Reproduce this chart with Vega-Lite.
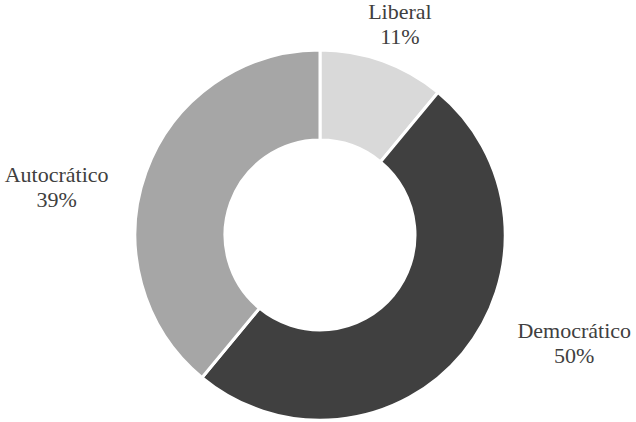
{
  "$schema": "https://vega.github.io/schema/vega-lite/v6.json",
  "width": 632,
  "height": 374,
  "autosize": "none",
  "padding": {"left": 4, "top": 48, "right": 0, "bottom": 0},
  "background": "white",
  "view": {"stroke": null},
  "data": {
    "values": [
      {"categoria": "Liberal", "valor": 11},
      {"categoria": "Democrático", "valor": 50},
      {"categoria": "Autocrático", "valor": 39}
    ]
  },
  "layer": [
    {
      "mark": {"type": "arc", "outerRadius": 185, "innerRadius": 95, "stroke": "white", "strokeWidth": 3},
      "encoding": {
        "theta": {"field": "valor", "type": "quantitative", "stack": true, "scale": {"domain": [0, 100]}},
        "order": {"field": "categoria", "type": "nominal", "sort": "descending"},
        "color": {
          "field": "categoria",
          "type": "nominal",
          "scale": {"domain": ["Liberal", "Democrático", "Autocrático"], "range": ["#d9d9d9", "#404040", "#a6a6a6"]},
          "legend": null
        }
      }
    },
    {
      "transform": [
        {"stack": "valor", "groupby": [], "sort": [{"field": "categoria", "order": "descending"}], "as": ["v0", "v1"]},
        {"filter": "datum.categoria === 'Liberal'"},
        {"calculate": "(datum.v0 + datum.v1) / 2", "as": "medio"},
        {"calculate": "datum.categoria + '\\n' + datum.valor + '%'", "as": "etiqueta"}
      ],
      "mark": {"type": "text", "radius": 230, "dx": 2, "dy": -7, "fontSize": 22, "font": "Liberation Serif, Times New Roman, serif", "color": "#404040", "lineBreak": "\n", "lineHeight": 25, "align": "center", "baseline": "middle"},
      "encoding": {
        "theta": {"field": "medio", "type": "quantitative", "stack": null, "scale": {"domain": [0, 100]}},
        "text": {"field": "etiqueta", "type": "nominal"}
      }
    },
    {
      "transform": [
        {"stack": "valor", "groupby": [], "sort": [{"field": "categoria", "order": "descending"}], "as": ["v0", "v1"]},
        {"filter": "datum.categoria === 'Democrático'"},
        {"calculate": "(datum.v0 + datum.v1) / 2", "as": "medio"},
        {"calculate": "datum.categoria + '\\n' + datum.valor + '%'", "as": "etiqueta"}
      ],
      "mark": {"type": "text", "radius": 230, "dx": 77, "dy": -51, "fontSize": 22, "font": "Liberation Serif, Times New Roman, serif", "color": "#404040", "lineBreak": "\n", "lineHeight": 25, "align": "center", "baseline": "middle"},
      "encoding": {
        "theta": {"field": "medio", "type": "quantitative", "stack": null, "scale": {"domain": [0, 100]}},
        "text": {"field": "etiqueta", "type": "nominal"}
      }
    },
    {
      "transform": [
        {"stack": "valor", "groupby": [], "sort": [{"field": "categoria", "order": "descending"}], "as": ["v0", "v1"]},
        {"filter": "datum.categoria === 'Autocrático'"},
        {"calculate": "(datum.v0 + datum.v1) / 2", "as": "medio"},
        {"calculate": "datum.categoria + '\\n' + datum.valor + '%'", "as": "etiqueta"}
      ],
      "mark": {"type": "text", "radius": 230, "dx": -47, "dy": 18, "fontSize": 22, "font": "Liberation Serif, Times New Roman, serif", "color": "#404040", "lineBreak": "\n", "lineHeight": 25, "align": "center", "baseline": "middle"},
      "encoding": {
        "theta": {"field": "medio", "type": "quantitative", "stack": null, "scale": {"domain": [0, 100]}},
        "text": {"field": "etiqueta", "type": "nominal"}
      }
    }
  ]
}
